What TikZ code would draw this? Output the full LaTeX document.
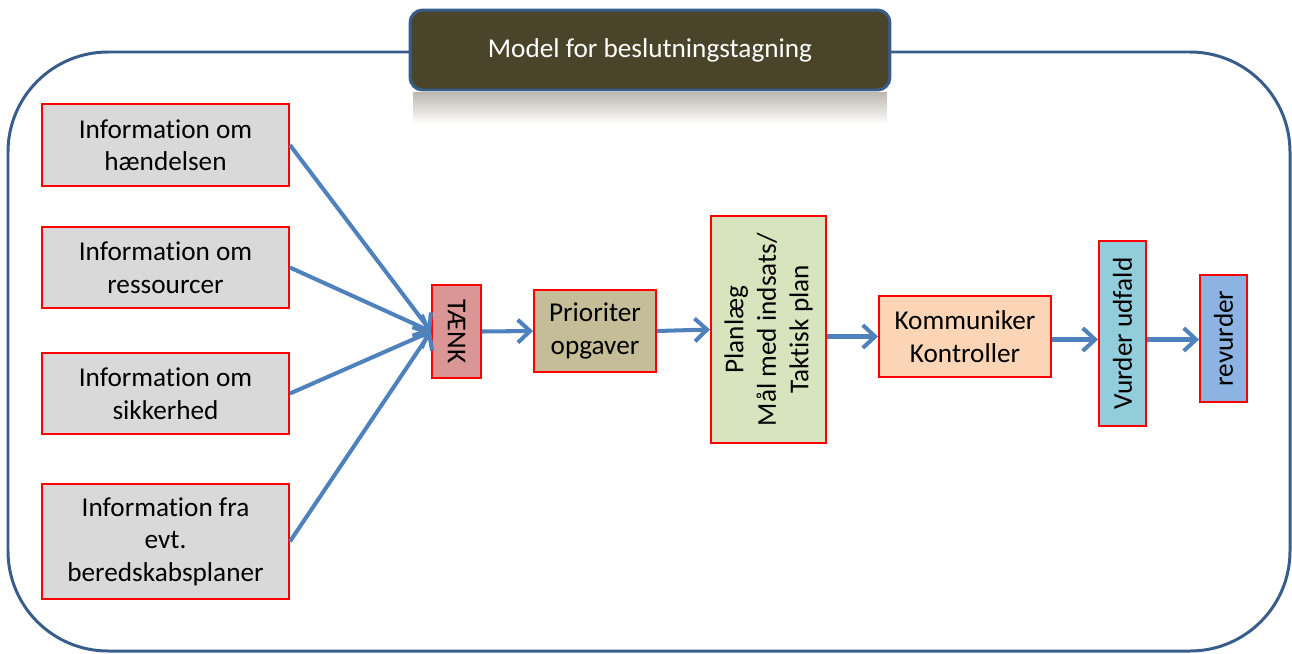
\documentclass[tikz,border=0pt]{standalone}
\usepackage{fontspec}
\setmainfont[Ligatures={NoCommon,NoContextual}]{Carlito}
\usepackage{tikz}
\usetikzlibrary{arrows.meta,calc}

\definecolor{frameblue}{HTML}{385D8A}
\definecolor{titlebrown}{HTML}{4A452A}
\definecolor{arrowblue}{HTML}{4F81BD}
\definecolor{infogray}{HTML}{D9D9D9}
\definecolor{thinkred}{HTML}{D99694}
\definecolor{priotan}{HTML}{C4BD97}
\definecolor{plangreen}{HTML}{D7E4BD}
\definecolor{commpeach}{HTML}{FBD5B5}
\definecolor{evalcyan}{HTML}{92CDDC}
\definecolor{revblue}{HTML}{8DB3E2}

\begin{document}
\begin{tikzpicture}[x=0.02cm, y=-0.02cm, >={Straight Barb[length=7pt,width=13pt]},
    box/.style={draw=red, line width=1.1pt, align=center, inner sep=2pt,
        font=\fontsize{15.5}{18.5}\selectfont},
    infobox/.style={box, fill=infogray, minimum width=4.94cm},
    flow/.style={->, line width=2.3pt, draw=arrowblue}]

    %% Background
    \useasboundingbox (0,0) rectangle (1292,653);

    % Frame
    \draw[frameblue, line width=1.7pt, rounded corners=2cm] (8,52) rectangle (1290,651);

    % Title and its reflection
    \shade[top color=titlebrown!38, bottom color=white] (413,92) rectangle (887,124);
    \node[draw=frameblue, line width=1.7pt, fill=titlebrown, rounded corners=0.25cm,
        minimum width=9.6cm, minimum height=1.6cm, text=white,
        font=\fontsize{15.5}{18.5}\selectfont]
        (title) at (650,50) {Model for beslutningstagning};

    % Information boxes
    \node[infobox, minimum height=1.64cm] (info1) at (165.5,145) {Information om\\hændelsen};
    \node[infobox, minimum height=1.62cm] (info2) at (165.5,267.5) {Information om\\ressourcer};
    \node[infobox, minimum height=1.62cm] (info3) at (165.5,393.5) {Information om\\sikkerhed};
    \node[infobox, minimum height=2.30cm] (info4) at (165.5,541.5) {Information fra\\evt.\\beredskabsplaner};

    % Decision steps
    \node[box, fill=thinkred, rotate=-90, minimum width=1.86cm, minimum height=0.98cm]
        (taenk) at (456.5,331.5) {TÆNK};
    \node[box, fill=priotan, minimum width=2.44cm, minimum height=1.64cm]
        (prio) at (595,331) {Prioriter\\opgaver};
    \node[box, fill=plangreen, rotate=90, minimum width=4.54cm, minimum height=2.30cm]
        (plan) at (768.5,329.5) {Planlæg\\Mål med indsats/\\Taktisk plan};
    \node[box, fill=commpeach, minimum width=3.44cm, minimum height=1.62cm]
        (komm) at (965,336.5) {Kommuniker\\Kontroller};
    \node[box, fill=evalcyan, rotate=90, minimum width=3.70cm, minimum height=0.94cm]
        (vurd) at (1122.5,333.5) {Vurder udfald};
    \node[box, fill=revblue, rotate=90, minimum width=2.54cm, minimum height=0.94cm]
        (revu) at (1223.5,338.5) {revurder};

    % Arrows
    \draw[flow] (info1.east) -- (taenk.south);
    \draw[flow] (info2.east) -- (taenk.south);
    \draw[flow] (info3.east) -- (taenk.south);
    \draw[flow] (info4.east) -- (taenk.south);
    \draw[flow] (taenk.north) -- (prio.west);
    \draw[flow] (prio.east) -- (plan.north);
    \draw[flow] (komm.west -| plan.south) -- (komm.west);
    \draw[flow] ($(komm.east)+(0,3)$) -- ($(komm.east -| vurd.north)+(0,3)$);
    \draw[flow] ($(komm.east -| vurd.south)+(0,3)$) -- ($(komm.east -| revu.north)+(0,3)$);

\end{tikzpicture}
\end{document}
